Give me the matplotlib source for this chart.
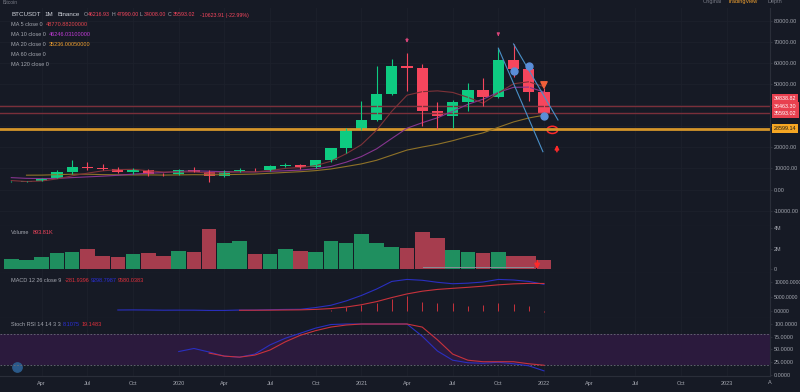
import numpy as np
import matplotlib.pyplot as plt
from matplotlib.patches import Ellipse

# BTCUSDT monthly, Feb 2019 .. Jan 2022 (index 0 = Feb 2019)
opens = [3458, 3814, 4104, 5321, 8555, 10854, 10080, 9589, 8289, 9141, 7542, 7195,
         9353, 8524, 6410, 8620, 9448, 9139, 11335, 11650, 10777, 13791, 19696, 28924,
         33093, 45136, 58741, 57694, 37254, 35045, 41462, 47101, 43824, 61300, 56951, 46217]
highs = [4200, 4140, 5600, 9074, 13970, 13147, 12325, 10905, 10370, 9525, 7750, 9578,
         10500, 9189, 9468, 10068, 10380, 11444, 12468, 12050, 14100, 19863, 29300, 41950,
         58352, 61844, 64854, 59593, 41330, 42448, 50500, 52920, 67000, 69000, 59054, 47990]
lows = [3400, 3670, 4060, 5300, 7440, 9070, 9320, 7710, 7300, 6515, 6435, 6855,
        8411, 3782, 6150, 8117, 8833, 8893, 10518, 9825, 10374, 13195, 17572, 28130,
        32297, 45000, 46930, 30000, 28805, 29278, 37332, 39600, 43283, 53256, 42000, 34008]
closes = [3814, 4104, 5321, 8555, 10854, 10080, 9589, 8289, 9141, 7542, 7195, 9353,
          8524, 6410, 8620, 9448, 9139, 11335, 11650, 10777, 13791, 19696, 28924, 33093,
          45136, 58741, 57694, 37254, 35045, 41462, 47101, 43824, 61300, 56951, 46217, 35593]
volume_k = [950, 850, 1150, 1550, 1700, 1930, 1260, 1150, 1530, 1550, 1330, 1770,
            1700, 3930, 2600, 2770, 1530, 1530, 1930, 1770, 1670, 2800, 2600, 3500,
            2600, 2180, 2100, 3660, 3030, 1870, 1700, 1600, 1670, 1330, 1330, 894]

nan = np.nan
ma5 = [4280, 3830, 4090, 5050, 6530, 7780, 8880, 9470, 9590, 8930, 8350, 8300,
       8350, 7800, 8020, 8470, 8430, 8990, 10040, 10470, 11340, 13450, 16970, 21260,
       28130, 37120, 44720, 46380, 46770, 46040, 43710, 40940, 45750, 50130, 51080, 48780]
ma10 = [5670, 5330, 5220, 5300, 5690, 6030, 6360, 6780, 7320, 7730, 8070, 8590,
        8910, 8700, 8470, 8410, 8370, 8670, 8920, 9250, 9910, 10940, 12980, 15650,
        19300, 24230, 29080, 31680, 34020, 37080, 40410, 42830, 46060, 48450, 48560, 46240]
ma20 = [nan, 6830, 6860, 7070, 7290, 7300, 7100, 7000, 6940, 6970, 6870, 6960,
        7070, 7000, 7080, 7220, 7360, 7730, 8120, 8490, 8990, 9770, 10950, 12170,
        13890, 16320, 18730, 20170, 21470, 23160, 25160, 26880, 29520, 32050, 33930, 35240]

macd_line = [nan] * 7 + [350, 380, 340, 280, 300, 290, 200, 200, 330, 330, 450, 550, 600,
                         1200, 2000, 3500, 5400, 7650, 10300, 11000, 10700, 10000, 9500,
                         9700, 10100, 11000, 10800, 10300, 9300]
macd_signal = [nan] * 15 + [250, 270, 300, 350, 400, 560, 850, 1380, 2180, 3270, 4680,
                            5950, 6900, 7520, 7900, 8250, 8650, 9120, 9450, 9620, 9580]
macd_hist = [nan] * 21 + [400, 1300, 2100, 2900, 4200, 5200, 3250, 2700, 2700, 1740,
                          2090, 2900, 2330, 1740, -282]
stoch_k = [nan] * 11 + [46, 52, 45, 37, 35, 41, 59, 72, 82, 92, 99, 100, 100, 100, 100,
                        100, 76, 47, 29, 24, 23, 25, 22, 18, 8.1]
stoch_d = [nan] * 13 + [43, 37, 35, 39, 49, 65, 78, 87, 94, 98, 100, 100, 100, 100, 94,
                        69, 41, 29, 26, 26, 26, 22, 19.1]

price_levels = [39838.82, 36463.30]
support_level = 28599.14
last_price = 35593.02

tick_pos = [2, 5, 8, 11, 14, 17, 20, 23, 26, 29, 32, 35, 38, 41, 44, 47]
tick_txt = ['Apr', 'Jul', 'Oct', '2020', 'Apr', 'Jul', 'Oct', '2021', 'Apr', 'Jul', 'Oct',
            '2022', 'Apr', 'Jul', 'Oct', '2023']

# drawings (month index, price)
trend_lines = [((32, 67000), (34.93, 17950)), ((33, 69000), (35.92, 32970))]
blue_dots = [(33, 56300), (34, 58550), (35, 34800)]

BG = '#161a25'
GRID = '#1d212c'
SEP = '#2a2e39'
TXT = '#a3a6af'
UP = '#0ecb81'
DN = '#f6465d'
W, H = 800, 392
FS = 4.0
plt.rcParams['font.family'] = ['Liberation Sans', 'DejaVu Sans']

fig = plt.figure(figsize=(8, 3.92), dpi=100)
fig.patch.set_facecolor(BG)


def pane(top, bottom):
    ax = fig.add_axes([0, 1 - bottom / H, 770 / W, (bottom - top) / H])
    ax.set_facecolor(BG)
    ax.set_xlim(-0.742, 49.85)
    for s in ax.spines.values():
        s.set_visible(False)
    ax.spines['right'].set_visible(True)
    ax.spines['right'].set_color(SEP)
    ax.spines['bottom'].set_visible(True)
    ax.spines['bottom'].set_color(SEP)
    ax.yaxis.tick_right()
    ax.tick_params(axis='y', colors=TXT, labelsize=3.9, length=1.5, pad=1.5, color=SEP)
    ax.set_xticks(tick_pos)
    ax.tick_params(axis='x', length=0, labelbottom=False)
    ax.grid(axis='x', color=GRID, lw=0.6)
    ax.set_axisbelow(True)
    return ax


x = np.arange(len(closes))
col = [UP if c >= o else DN for o, c in zip(opens, closes)]

# ---- main price pane
ax = pane(8, 226)
ax.set_ylim(-17243, 86026)
yt = np.arange(-10000, 80001, 10000)
ax.set_yticks(yt)
# 30000 / 40000 sit under the price tags, like on the screen
ax.set_yticklabels(['' if v in (30000, 40000) else '%.2f' % v for v in yt])
ax.grid(axis='y', color=GRID, lw=0.6)

for lv in price_levels:
    ax.axhline(lv, color='#7a2f3a', lw=1)
ax.axhline(support_level, color='#d4952a', lw=2)

ax.plot(x, ma20, color='#8f7228', lw=0.8)
ax.plot(x, ma10, color='#86358f', lw=0.8)
ax.plot(x, ma5, color='#7e3238', lw=0.8)

ax.vlines(x, lows, highs, colors=col, lw=0.8)
body_h = [max(abs(c - o), 350) for o, c in zip(opens, closes)]
ax.bar(x, body_h, bottom=np.minimum(opens, closes), width=0.74, color=col)

for (x0, y0), (x1, y1) in trend_lines:
    ax.plot([x0, x1], [y0, y1], color='#4a90c8', lw=0.8)
for bx, by in blue_dots:
    ax.plot(bx, by, 'o', color='#5b8ed8', ms=5)

# arrows and marks
ax.annotate('', xy=(26, 68200), xytext=(26, 73000),
            arrowprops=dict(arrowstyle='-|>', color='#d8457a', lw=0.8, mutation_scale=4))
ax.annotate('', xy=(32, 71300), xytext=(32, 75000),
            arrowprops=dict(arrowstyle='-|>', color='#d8457a', lw=0.8, mutation_scale=4))
ax.annotate('', xy=(35, 46800), xytext=(35, 51500),
            arrowprops=dict(arrowstyle='simple', color='#f0603a', mutation_scale=9))
ax.add_patch(Ellipse((35.55, 28300), 0.7, 3400, fill=False, color='#ff2a2a', lw=1.1))
ax.annotate('', xy=(35.85, 22500), xytext=(35.85, 16600),
            arrowprops=dict(arrowstyle='-|>', color='#ff2a2a', lw=1.1, mutation_scale=6))

# ---- volume pane
av = pane(226, 273)
vcol = ['#1f8f5f' if c >= o else '#a63d4e' for o, c in zip(opens, closes)]
av.bar(x, volume_k, width=0.96, color=vcol)
av.set_ylim(-390, 4240)
av.set_yticks([0, 2000, 4000])
av.set_yticklabels(['0', '2M', '4M'])
av.plot([27.05, 34.3], [200, 200], color='#8a8d96', lw=0.7)
av.annotate('', xy=(34.55, -300), xytext=(34.55, 1100),
            arrowprops=dict(arrowstyle='-|>', color='#ff2a2a', lw=1.3, mutation_scale=7))

# ---- MACD pane
am = pane(273, 318)
am.set_ylim(-2440, 13240)
am.set_yticks([0, 5000, 10000])
am.set_yticklabels(['0.0000', '5000.0000', '10000.0000'])
am.tick_params(axis='y', labelsize=3.7)
am.vlines(x, 0, macd_hist, colors='#c8323c', lw=0.7)
am.plot(x, macd_line, color='#2a2fc0', lw=0.8)
am.plot(x, macd_signal, color='#c8323c', lw=0.8)

# ---- Stoch RSI pane
ast = pane(318, 376)
ast.set_ylim(-2, 111.8)
ast.set_yticks([0, 25, 50, 75, 100])
ast.set_yticklabels(['0.0000', '25.0000', '50.0000', '75.0000', '100.0000'])
ast.axhspan(20, 80, color='#2b1a3d', lw=0)
ast.axhline(80, color='#6a6d78', lw=0.6, ls=(0, (2, 2)))
ast.axhline(20, color='#6a6d78', lw=0.6, ls=(0, (2, 2)))
ast.plot(x, stoch_k, color='#2a2fc0', lw=0.8)
ast.plot(x, stoch_d, color='#c8323c', lw=0.8)
ast.tick_params(axis='x', labelbottom=True, colors=TXT, labelsize=FS, pad=3.5)
ast.set_xticklabels(tick_txt)
ast.scatter([0.022], [0.15], s=45, color='#2b5a8a', transform=ast.transAxes, clip_on=False)


def t(px, py, s, c=TXT, fs=FS, **kw):
    fig.text(px / W, 1 - py / H, s, color=c, fontsize=fs, va='center', **kw)


# header
t(3, 3, 'Bitcoin', '#787b86', 3.6)
t(703, 1.5, 'Original', '#787b86', 4.0)
t(728, 1.5, 'TradingView', '#f0a030', 4.0)
t(767, 1.5, 'Depth', '#787b86', 4.0)
t(11, 15, 'BTCUSDT', '#d1d4dc', 4.5)
t(44, 15, '1M', '#d1d4dc', 4.5)
t(58, 15, 'Binance', '#d1d4dc', 4.5)
t(84, 15, 'O', TXT, 3.8)
t(88, 15, '46216.93', DN, 3.8)
t(112, 15, 'H', TXT, 3.8)
t(116.5, 15, '47990.00', DN, 3.8)
t(140, 15, 'L', TXT, 3.8)
t(144, 15, '34008.00', DN, 3.8)
t(168, 15, 'C', TXT, 3.8)
t(172.5, 15, '35593.02', DN, 3.8)
t(200, 15, '-10623.91 (-22.99%)', DN, 3.8)
t(11, 25, 'MA 5 close 0', TXT)
t(46, 25, '48770.88200000', '#e0454e')
t(11, 35, 'MA 10 close 0', TXT)
t(49, 35, '46246.03100000', '#c03bd6')
t(11, 45, 'MA 20 close 0', TXT)
t(49, 45, '35236.00050000', '#f0a030')
t(11, 55, 'MA 60 close 0', TXT)
t(11, 65, 'MA 120 close 0', TXT)

t(11, 232, 'Volume', TXT)
t(33, 232, '893.81K', DN)
t(11, 280, 'MACD 12 26 close 9', TXT)
t(65, 280, '-281.9396', '#e0303c')
t(91, 280, '9298.7987', '#2a2fd8')
t(118, 280, '9580.0383', '#e0303c')
t(11, 324, 'Stoch RSI 14 14 3 3', TXT)
t(63, 324, '8.1075', '#2a2fd8')
t(82, 324, '19.1483', '#e0303c')
t(768, 383, 'A', TXT)

# right price labels
for py, s in [(98, '39838.82'), (106, '36463.30'), (113.5, '35593.02')]:
    t(774, py, s, 'white', 3.9,
      bbox=dict(boxstyle='square,pad=0.35', fc='#e8404f', ec='none'))
t(774, 128.5, '%.2f' % support_level, '#1a1a1a', 3.9,
  bbox=dict(boxstyle='square,pad=0.35', fc='#f5a623', ec='none'))

fig.savefig('out.png', dpi=100, facecolor=BG)
